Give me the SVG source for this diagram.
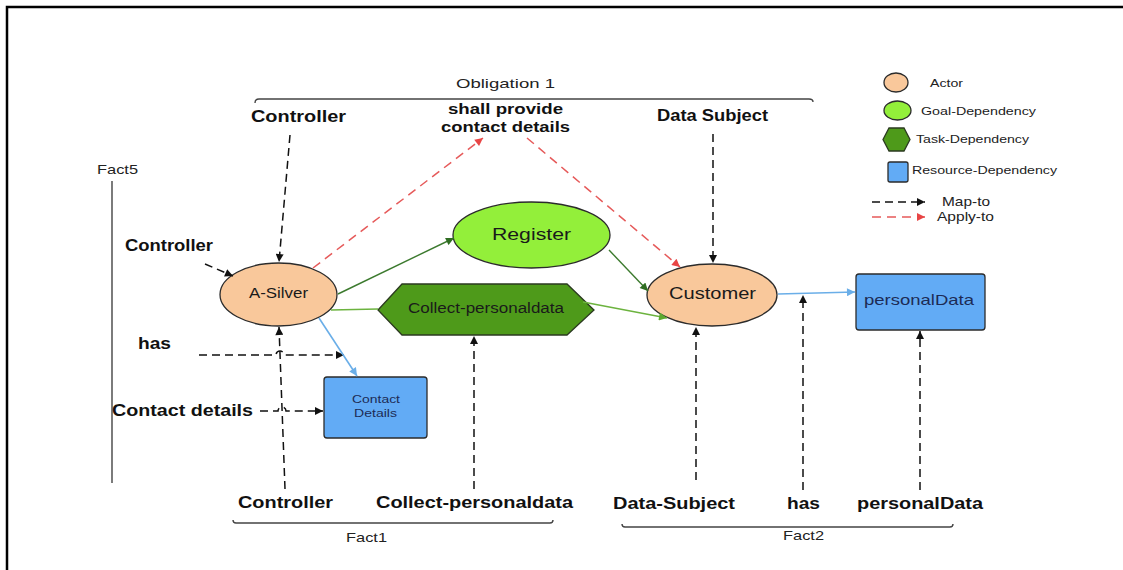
<svg xmlns="http://www.w3.org/2000/svg" width="1123" height="570" viewBox="0 0 1123 570">
  <style>
    text { font-family: "Liberation Sans", Arial, sans-serif; fill: #1a1a1a; }
    .lbl { font-size: 16px; font-weight: bold; fill: #111; }
    .cap { font-size: 13.5px; fill: #222; }
    .node-text { font-size: 15px; fill: #1a1a1a; }
    .leg { font-size: 11px; fill: #222; }
    .leg2 { font-size: 13px; fill: #222; }
    .actor { fill: #f9c89b; stroke: #2b2b2b; stroke-width: 1.3; }
    .goal { fill: #93ef3a; stroke: #2b2b2b; stroke-width: 1.3; }
    .task { fill: #4e9a1a; stroke: #2b3a20; stroke-width: 1.3; }
    .res { fill: #62abf5; stroke: #2b2b2b; stroke-width: 1.3; }
    .map { fill: none; stroke: #111; stroke-width: 1.5; stroke-dasharray: 8 5; }
    .apply { fill: none; stroke: #e65a5a; stroke-width: 1.5; stroke-dasharray: 9 6; }
    .dg { fill: none; stroke: #3c7a2e; stroke-width: 1.4; }
    .lg { fill: none; stroke: #6cb33f; stroke-width: 1.4; }
    .bl { fill: none; stroke: #6aaee8; stroke-width: 1.6; }
    .brace { fill: none; stroke: #444; stroke-width: 1.4; }
  </style>
  <defs>
    <marker id="arMap" viewBox="0 0 10 10" refX="10" refY="5" markerWidth="9" markerHeight="8" markerUnits="userSpaceOnUse" orient="auto">
      <path d="M0,0 L10,5 L0,10 z" fill="#111"/>
    </marker>
    <marker id="arApply" viewBox="0 0 10 10" refX="10" refY="5" markerWidth="10" markerHeight="8" markerUnits="userSpaceOnUse" orient="auto">
      <path d="M0,0 L10,5 L0,10 z" fill="#e84545"/>
    </marker>
    <marker id="arDg" viewBox="0 0 10 10" refX="10" refY="5" markerWidth="10" markerHeight="8" markerUnits="userSpaceOnUse" orient="auto">
      <path d="M0,0 L10,5 L0,10 z" fill="#2f6d22"/>
    </marker>
    <marker id="arLg" viewBox="0 0 10 10" refX="10" refY="5" markerWidth="10" markerHeight="8" markerUnits="userSpaceOnUse" orient="auto">
      <path d="M0,0 L10,5 L0,10 z" fill="#5ea92f"/>
    </marker>
    <marker id="arBl" viewBox="0 0 10 10" refX="10" refY="5" markerWidth="10" markerHeight="8" markerUnits="userSpaceOnUse" orient="auto">
      <path d="M0,0 L10,5 L0,10 z" fill="#6aaee8"/>
    </marker>
  </defs>

  <rect width="1123" height="570" fill="#fff"/>
  <!-- page frame -->
  <path d="M7,570 V7 H1123" fill="none" stroke="#000" stroke-width="2.5"/>

  <!-- group braces and their captions -->
  <g id="obligation1">
    <path class="brace" d="M255,103 Q255,99 259,99 H809 Q813,99 813,102"/>
    <text class="cap" x="456" y="88" textLength="99" lengthAdjust="spacingAndGlyphs">Obligation 1</text>
  </g>
  <g id="fact5">
    <text class="cap" x="97" y="174" textLength="41" lengthAdjust="spacingAndGlyphs">Fact5</text>
    <path class="brace" d="M112,181 V483"/>
  </g>
  <g id="fact1">
    <path class="brace" d="M233,520 Q233,523 236,523 H550 Q553,523 553,520"/>
    <text class="cap" x="346" y="542" textLength="41" lengthAdjust="spacingAndGlyphs">Fact1</text>
  </g>
  <g id="fact2">
    <path class="brace" d="M622,524 Q622,527 625,527 H950 Q953,527 953,524" stroke="#666" stroke-width="1.8"/>
    <text class="cap" x="783" y="540" textLength="41" lengthAdjust="spacingAndGlyphs">Fact2</text>
  </g>

  <!-- nodes -->
  <g id="a-silver">
    <ellipse class="actor" cx="278.5" cy="294.5" rx="58.5" ry="31.5"/>
    <text class="node-text" x="249" y="298" textLength="59" lengthAdjust="spacingAndGlyphs" style="font-size:14px">A-Silver</text>
  </g>
  <g id="register">
    <ellipse class="goal" cx="531.5" cy="235" rx="78.5" ry="33"/>
    <text class="node-text" x="492" y="240" textLength="79" lengthAdjust="spacingAndGlyphs" style="font-size:17px">Register</text>
  </g>
  <g id="collect-personaldata">
    <polygon class="task" points="378,310 402,284 567,284 594,310 567,335 402,335"/>
    <text class="node-text" x="408" y="313" textLength="156" lengthAdjust="spacingAndGlyphs" style="font-size:14px">Collect-personaldata</text>
  </g>
  <g id="customer">
    <ellipse class="actor" cx="712" cy="295" rx="65" ry="31"/>
    <text class="node-text" x="669" y="299" textLength="87" lengthAdjust="spacingAndGlyphs" style="font-size:17px">Customer</text>
  </g>
  <g id="contact-details">
    <rect class="res" x="324" y="377" width="103" height="61" rx="3"/>
    <text class="node-text" x="352" y="403" textLength="48" lengthAdjust="spacingAndGlyphs" style="font-size:11.5px;fill:#1d2b55">Contact</text>
    <text class="node-text" x="354" y="417" textLength="43" lengthAdjust="spacingAndGlyphs" style="font-size:11.5px;fill:#1d2b55">Details</text>
  </g>
  <g id="personaldata">
    <rect class="res" x="856" y="274" width="129" height="56" rx="3"/>
    <text class="node-text" x="864" y="305" textLength="110" lengthAdjust="spacingAndGlyphs" style="font-size:15px;fill:#1d2b55">personalData</text>
  </g>

  <!-- element labels -->
  <g id="labels">
    <text class="lbl" x="251" y="122" textLength="95" lengthAdjust="spacingAndGlyphs">Controller</text>
    <text class="lbl" x="448" y="114" textLength="115" lengthAdjust="spacingAndGlyphs" style="font-size:15px">shall provide</text>
    <text class="lbl" x="441" y="132" textLength="129" lengthAdjust="spacingAndGlyphs" style="font-size:15px">contact details</text>
    <text class="lbl" x="657" y="121" textLength="111" lengthAdjust="spacingAndGlyphs">Data Subject</text>
    <text class="lbl" x="125" y="251" textLength="88" lengthAdjust="spacingAndGlyphs">Controller</text>
    <text class="lbl" x="138" y="349" textLength="33" lengthAdjust="spacingAndGlyphs">has</text>
    <text class="lbl" x="112" y="416" textLength="141" lengthAdjust="spacingAndGlyphs">Contact details</text>
    <text class="lbl" x="238" y="508" textLength="95" lengthAdjust="spacingAndGlyphs">Controller</text>
    <text class="lbl" x="376" y="508" textLength="197" lengthAdjust="spacingAndGlyphs">Collect-personaldata</text>
    <text class="lbl" x="613" y="509" textLength="122" lengthAdjust="spacingAndGlyphs">Data-Subject</text>
    <text class="lbl" x="787" y="509" textLength="33" lengthAdjust="spacingAndGlyphs">has</text>
    <text class="lbl" x="857" y="509" textLength="126" lengthAdjust="spacingAndGlyphs">personalData</text>
  </g>

  <!-- connectors -->
  <g id="connectors">
    <!-- map-to -->
    <path class="map" d="M290,135 L279,262" marker-end="url(#arMap)"/>
    <path class="map" d="M205,264 L233,276" marker-end="url(#arMap)"/>
    <path class="map" d="M199,355 H276 A4,4 0 0 1 284,355 H344" marker-end="url(#arMap)"/>
    <path class="map" d="M260,411 H278 A4,4 0 0 1 286,411 H323" marker-end="url(#arMap)"/>
    <path class="map" d="M285,489 L279,327" marker-end="url(#arMap)"/>
    <path class="map" d="M474,489 V336" marker-end="url(#arMap)"/>
    <path class="map" d="M713,134 V263" marker-end="url(#arMap)"/>
    <path class="map" d="M696,480 V327" marker-end="url(#arMap)"/>
    <path class="map" d="M803,490 V295" marker-end="url(#arMap)"/>
    <path class="map" d="M920,490 V331" marker-end="url(#arMap)"/>
    <!-- apply-to -->
    <path class="apply" d="M313,268 L483,138" marker-end="url(#arApply)"/>
    <path class="apply" d="M527,138 L680,267" marker-end="url(#arApply)"/>
    <!-- dependencies -->
    <path class="dg" d="M338,294 L454,238" marker-end="url(#arDg)"/>
    <path class="dg" d="M609,250 L648,291" marker-end="url(#arDg)"/>
    <path class="lg" d="M331,310 L378,309"/>
    <path class="lg" d="M583,302 L667,318" marker-end="url(#arLg)"/>
    <path class="bl" d="M319,318 L357,376" marker-end="url(#arBl)"/>
    <path class="bl" d="M778,294 L855,292" marker-end="url(#arBl)"/>
  </g>

  <!-- legend -->
  <g id="legend">
    <ellipse class="actor" cx="896" cy="82.5" rx="12" ry="9.5"/>
    <text class="leg" x="930" y="87" textLength="33" lengthAdjust="spacingAndGlyphs">Actor</text>
    <ellipse class="goal" cx="897.5" cy="110.5" rx="13.5" ry="9.5"/>
    <text class="leg" x="921" y="115" textLength="115" lengthAdjust="spacingAndGlyphs">Goal-Dependency</text>
    <polygon class="task" points="883,139.5 889,128 904,128 910,139.5 904,151 889,151"/>
    <text class="leg" x="916" y="143" textLength="113" lengthAdjust="spacingAndGlyphs">Task-Dependency</text>
    <rect class="res" x="888" y="162" width="20" height="20" rx="2"/>
    <text class="leg" x="912" y="174" textLength="145" lengthAdjust="spacingAndGlyphs">Resource-Dependency</text>
    <path class="map" d="M872,202 H925" stroke-width="1.2" marker-end="url(#arMap)"/>
    <text class="leg2" x="942" y="206" textLength="48" lengthAdjust="spacingAndGlyphs">Map-to</text>
    <path class="apply" d="M872,217 H925" stroke-width="1.2" marker-end="url(#arApply)"/>
    <text class="leg2" x="937" y="221" textLength="57" lengthAdjust="spacingAndGlyphs">Apply-to</text>
  </g>
</svg>
